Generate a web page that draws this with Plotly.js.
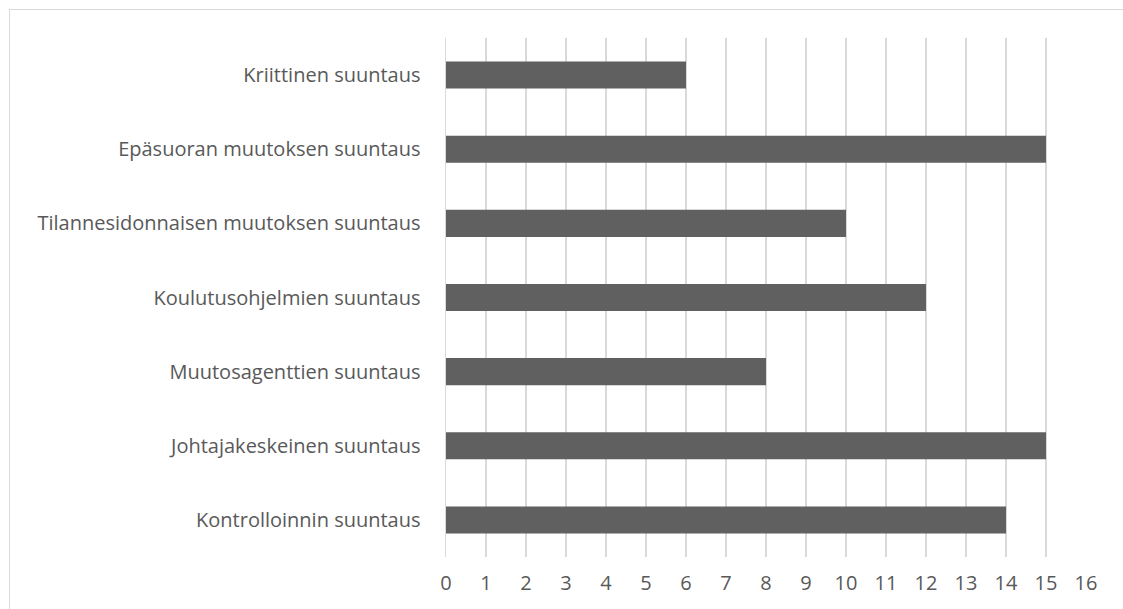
<!DOCTYPE html>
<html>
<head>
<meta charset="utf-8">
<script src="https://cdn.plot.ly/plotly-3.0.1.min.js"></script>
<style>
html,body{margin:0;padding:0;width:1123px;height:609px;overflow:hidden;background:#fff;}
#frame{position:absolute;left:9px;top:9px;width:1200px;height:700px;border:1px solid #d9d9d9;box-sizing:border-box;}
#chart{position:absolute;left:0;top:0;width:1123px;height:609px;}
</style>
</head>
<body>
<div id="frame"></div>
<div id="chart"></div>
<script>
const categories = [
  "Kontrolloinnin suuntaus",
  "Johtajakeskeinen suuntaus",
  "Muutosagenttien suuntaus",
  "Koulutusohjelmien suuntaus",
  "Tilannesidonnaisen muutoksen suuntaus",
  "Epäsuoran muutoksen suuntaus",
  "Kriittinen suuntaus"
];
const values = [14, 15, 8, 12, 10, 15, 6];
const xTicks = [0,1,2,3,4,5,6,7,8,9,10,11,12,13,14,15,16];

const font = {family: "Open Sans, Liberation Sans, sans-serif", size: 20, color: "#595959"};

Plotly.newPlot("chart", [{
  type: "bar",
  orientation: "h",
  x: values,
  y: categories,
  marker: {color: "#606060"},
  hoverinfo: "x+y"
}], {
  width: 1123, height: 609,
  margin: {l: 446, r: 37, t: 38, b: 52, pad: 0},
  paper_bgcolor: "rgba(0,0,0,0)",
  plot_bgcolor: "rgba(0,0,0,0)",
  bargap: 0.635,
  showlegend: false,
  font: font,
  xaxis: {
    range: [0, 16],
    tickvals: xTicks,
    ticktext: xTicks.map(String),
    showgrid: true, gridcolor: "#d9d9d9", gridwidth: 1.5,
    zeroline: false, showline: false, ticks: "",
    tickfont: font,
    ticklabelstandoff: 12,
    fixedrange: true
  },
  yaxis: {
    type: "category",
    showgrid: false, zeroline: false, showline: true, linecolor: "#d9d9d9", linewidth: 1.5,
    ticks: "", tickfont: font,
    ticklabelstandoff: 20,
    fixedrange: true
  }
}, {displayModeBar: false, staticPlot: true});
</script>
</body>
</html>
